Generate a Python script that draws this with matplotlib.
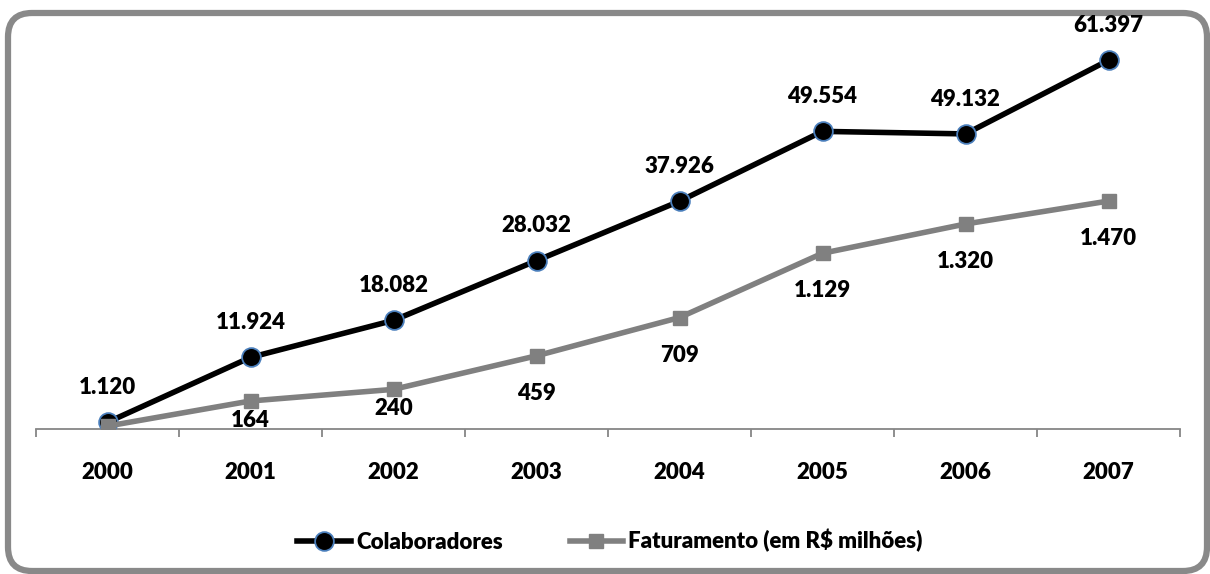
import matplotlib
matplotlib.use('Agg')
import matplotlib.pyplot as plt
from matplotlib.patches import FancyBboxPatch
from matplotlib.transforms import IdentityTransform

# chart data
years = ['2000', '2001', '2002', '2003', '2004', '2005', '2006', '2007']
colaboradores = [1120, 11924, 18082, 28032, 37926, 49554, 49132, 61397]
faturamento = [0, 164, 240, 459, 709, 1129, 1320, 1470]

# label offsets in points (Faturamento labels sit below, two were nudged up)
fat_offsets = [0, -14, -14, -27, -27, -27, -27, -27]


def fmt_br(v):
    return f'{v:,}'.replace(',', '.')


plt.rcParams['font.family'] = ['Lato', 'DejaVu Sans']
WEIGHT = 800
FS = 16

W, H = 1210, 574
fig = plt.figure(figsize=(W / 100, H / 100), dpi=100)

# rounded outer frame, drawn in pixel coords
frame = FancyBboxPatch((8, 3), 1199, 558,
                       boxstyle='round,pad=0,rounding_size=24',
                       transform=IdentityTransform(), facecolor='white',
                       edgecolor='#898989', linewidth=4.5, zorder=-5)
fig.patches.append(frame)

ax_left, ax_right = 36 / W, 1180 / W
ax_bottom, ax_top = 1 - 429 / H, 1 - 38.6 / H
ax = fig.add_axes([ax_left, ax_bottom, ax_right - ax_left, ax_top - ax_bottom])
ax2 = ax.twinx()  # secondary series drawn on top, as in the original

x = list(range(len(years)))

ax.plot(x, colaboradores, color='black', linewidth=4, marker='o',
        markersize=13.5, markerfacecolor='black', markeredgecolor='#4A7EBB',
        markeredgewidth=1.3, label='Colaboradores', zorder=3)
ax2.plot(x, faturamento, color='#808080', linewidth=4, marker='s',
         markersize=10, markerfacecolor='#808080', markeredgecolor='#808080',
         label='Faturamento (em R$ milhões)', zorder=2)

ax.set_xlim(-0.5, len(years) - 0.5)
ax.set_ylim(0, 65000)
ax2.set_ylim(-19, 2531)

for i, v in enumerate(colaboradores):
    ax.annotate(fmt_br(v), (x[i], v), xytext=(0, 25), textcoords='offset points',
                ha='center', va='center', fontsize=FS, fontweight=WEIGHT)
for i, v in enumerate(faturamento):
    if v == 0:
        continue
    ax2.annotate(fmt_br(v), (x[i], v), xytext=(0, fat_offsets[i]),
                 textcoords='offset points', ha='center', va='center',
                 fontsize=FS, fontweight=WEIGHT)

# category axis: ticks between categories, labels centred
for a in (ax, ax2):
    for s in ('top', 'right', 'left'):
        a.spines[s].set_visible(False)
    a.set_yticks([])
ax2.spines['bottom'].set_visible(False)
ax.spines['bottom'].set_color('#868686')
ax.spines['bottom'].set_linewidth(1.3)
ax.set_xticks([i - 0.5 for i in range(len(years) + 1)])
ax.set_xticklabels([])
ax.tick_params(axis='x', direction='out', length=6, width=1.3, color='#868686')
ax.set_xticks(x, minor=True)
ax.set_xticklabels(years, minor=True, fontsize=FS, fontweight=WEIGHT)
ax.tick_params(axis='x', which='minor', length=0, pad=24)

h1, l1 = ax.get_legend_handles_labels()
h2, l2 = ax2.get_legend_handles_labels()
fig.legend(h1 + h2, l1 + l2, loc='center', bbox_to_anchor=(610 / W, 1 - 541 / H),
           ncol=2, frameon=False, prop={'weight': WEIGHT, 'size': FS},
           handlelength=2.4, handletextpad=0.25, columnspacing=3.0)

fig.savefig('out.png', dpi=100)
